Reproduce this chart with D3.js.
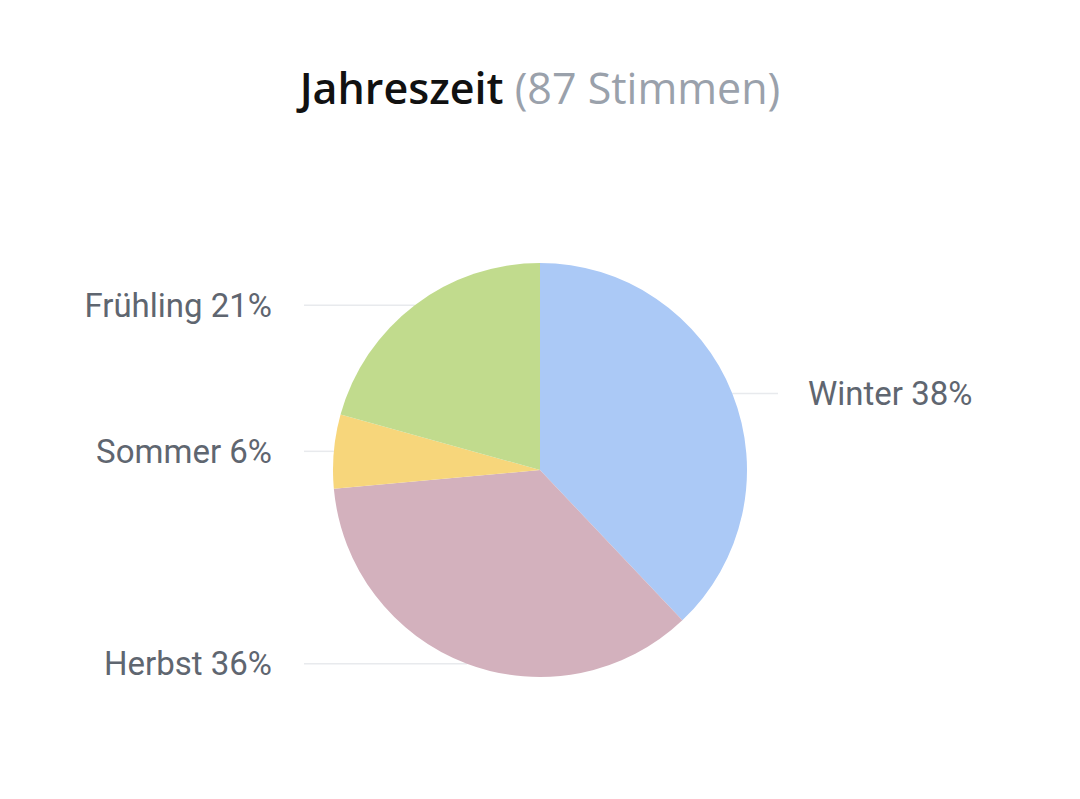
<!DOCTYPE html>
<html>
<head>
<meta charset="utf-8">
<script src="https://cdn.jsdelivr.net/npm/d3@7"></script>
<style>
  html, body { margin: 0; padding: 0; background: #fff; }
</style>
</head>
<body>
<svg id="chart"></svg>
<script>
// Chart size
const width = 1080;
const height = 799;

// Data: votes per season (87 total)
const seasons = ["Winter", "Herbst", "Sommer", "Frühling"];
const votes = [33, 31, 5, 18];
const percentLabels = ["38%", "36%", "6%", "21%"];
const colors = ["#abc9f6", "#d3b1bd", "#f7d67b", "#c1db8d"];
const titleMain = "Jahreszeit";
const titleSub = "(87 Stimmen)";

const cx = 540, cy = 470, radius = 207;

const svg = d3.select("#chart")
    .attr("width", width)
    .attr("height", height);

// Title
const title = svg.append("text")
    .attr("x", width / 2)
    .attr("y", 104)
    .attr("text-anchor", "middle")
    .style("font-family", "'Open Sans', 'Noto Sans', sans-serif")
    .style("font-size", "43px");
title.append("tspan")
    .attr("font-weight", 600)
    .attr("fill", "#111")
    .text(titleMain);
title.append("tspan")
    .attr("fill", "#9aa1ab")
    .text(" " + titleSub);

const pie = d3.pie()
    .value(d => d)
    .sort(null);

const arcs = pie(votes);

const arc = d3.arc()
    .innerRadius(0)
    .outerRadius(radius);

const g = svg.append("g")
    .attr("transform", `translate(${cx},${cy})`);

// Leader lines (drawn under the slices)
const leftX = 304 - cx, rightX = 778 - cx;
g.selectAll("line.leader")
    .data(arcs)
    .enter()
    .append("line")
    .attr("class", "leader")
    .each(function(d) {
        const mid = (d.startAngle + d.endAngle) / 2;
        const px = radius * Math.sin(mid);
        const py = -radius * Math.cos(mid);
        d3.select(this)
            .attr("x1", px)
            .attr("y1", py)
            .attr("x2", px > 0 ? rightX : leftX)
            .attr("y2", py);
    })
    .attr("stroke", "#e8eaed")
    .attr("stroke-width", 1.5);

// Slices
g.selectAll("path.slice")
    .data(arcs)
    .enter()
    .append("path")
    .attr("class", "slice")
    .attr("d", arc)
    .attr("fill", (d, i) => colors[i]);

// Labels
g.selectAll("text.label")
    .data(arcs)
    .enter()
    .append("text")
    .attr("class", "label")
    .each(function(d, i) {
        const mid = (d.startAngle + d.endAngle) / 2;
        const px = radius * Math.sin(mid);
        const py = -radius * Math.cos(mid);
        d3.select(this)
            .attr("x", px > 0 ? rightX + 30 : leftX - 32)
            .attr("y", py)
            .attr("dy", "0.35em")
            .attr("text-anchor", px > 0 ? "start" : "end")
            .text(seasons[i] + " " + percentLabels[i]);
    })
    .style("font-family", "Roboto, sans-serif")
    .style("font-size", "33px")
    .attr("fill", "#5f6670");
</script>
</body>
</html>
